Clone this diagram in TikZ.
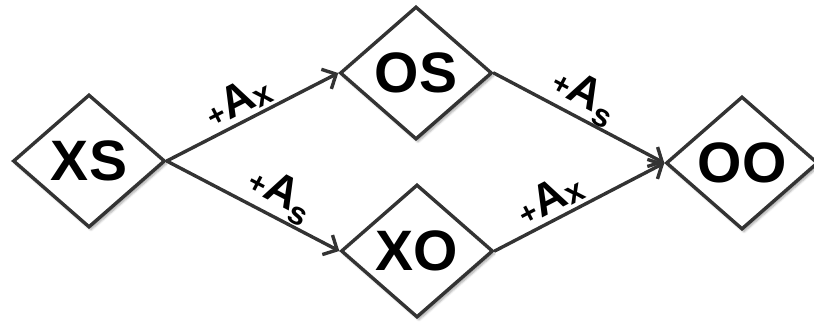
\documentclass[tikz,border=0pt]{standalone}
\usepackage{fontspec}
\setmainfont{Liberation Sans}
\usetikzlibrary{shapes.geometric,arrows.meta,shadows.blur}
\definecolor{edgegray}{HTML}{333333}
\newcommand{\lbl}[2]{{\fontsize{30}{30}\selectfont\bfseries +}{\fontsize{45}{45}\selectfont\bfseries A}\raisebox{#2}{\fontsize{32}{32}\selectfont\bfseries #1}}
\tikzset{
  state/.style={diamond, draw=edgegray, line width=3.4pt, fill=white,
    minimum width=152pt, minimum height=133pt, inner sep=0pt,
    font=\fontsize{57}{57}\selectfont\bfseries,
    blur shadow={shadow xshift=2pt, shadow yshift=-3pt, shadow blur steps=6, shadow opacity=35}},
  link/.style={draw=edgegray, line width=3.4pt, line cap=round,
    -{Straight Barb[length=11pt,width=22pt,line width=3.4pt]}},
  lab/.style={sloped, inner sep=0pt}
}
\begin{document}
\begin{tikzpicture}[x=1pt,y=-1pt]
\useasboundingbox (0,0) rectangle (814,324);
\node[state] (XS) at (89,161) {XS};
\node[state] (OS) at (416,73) {OS};
\node[state] (XO) at (417,251) {XO};
\node[state] (OO) at (742,163) {OO};
\draw[link] (XS.east) -- node[lab, pos=0.47, above=3pt] {\lbl{x}{-3pt}} (OS.west);
\draw[link] (XS.east) -- node[lab, pos=0.6, above=1pt] {\lbl{s}{-9pt}} (XO.west);
\draw[link] (OS.east) -- node[lab, pos=0.47, above=0pt] {\lbl{s}{-9pt}} (OO.west);
\draw[link] (XO.east) -- node[lab, pos=0.38, above=3pt] {\lbl{x}{-3pt}} (OO.west);
\end{tikzpicture}
\end{document}
